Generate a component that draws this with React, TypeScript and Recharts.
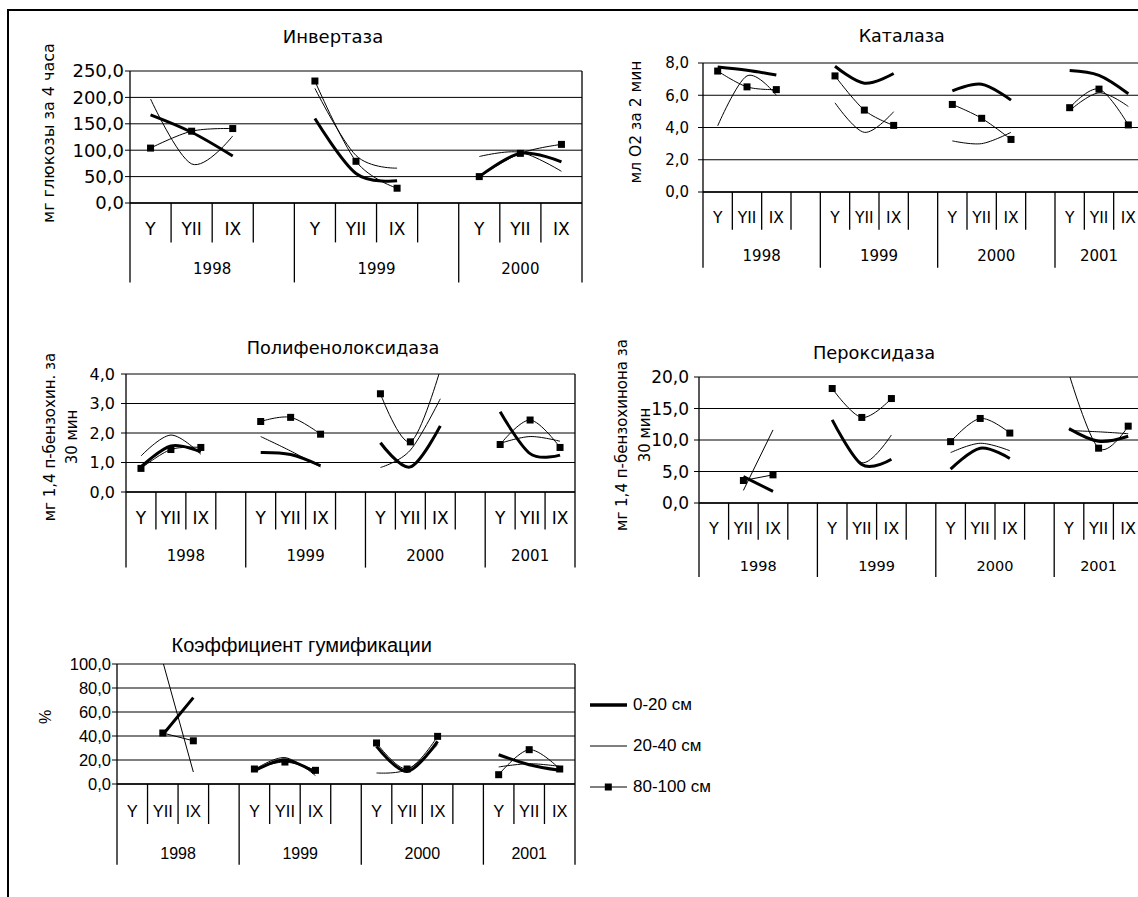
import React from 'react';
import { LineChart, Line, XAxis, YAxis, CartesianGrid, Legend } from 'recharts';

// ---------- categories ----------
const MONTHS = ['Y', 'YII', 'IX', ''];
const YEARS_3 = ['1998', '1999', '2000'];
const YEARS_4 = ['1998', '1999', '2000', '2001'];
const DEPTHS = ['0-20 см', '20-40 см', '80-100 см'];

// ---------- Инвертаза ----------
const invTicks = [0, 50, 100, 150, 200, 250];
const inv_0_20 = [167, 134, 89, null, 160, 56, 42, null, 50, 94, 78];
const inv_20_40 = [197, 74, 127, null, 217, 90, 66, null, 88, 96, 60];
const inv_80_100 = [104, 136, 141, null, 231, 79, 28, null, 50, 94, 111];

// ---------- Каталаза ----------
const catTicks = [0, 2, 4, 6, 8];
const cat_0_20 = [7.75, 7.55, 7.25, null, 7.8, 6.75, 7.35, null, 6.27, 6.68, 5.7, null, 7.53, 7.23, 6.09];
const cat_20_40 = [4.1, 7.2, 6.0, null, 5.53, 3.7, 4.98, null, 3.17, 3.0, 3.7, null, 5.05, 6.15, 5.3];
const cat_80_100 = [7.5, 6.52, 6.35, null, 7.2, 5.08, 4.13, null, 5.43, 4.57, 3.26, null, 5.23, 6.38, 4.16];

// ---------- Полифенолоксидаза ----------
const pfoTicks = [0, 1, 2, 3, 4];
const pfo_0_20 = [0.85, 1.56, 1.36, null, 1.34, 1.27, 0.89, null, 1.67, 0.85, 2.24, null, 2.72, 1.3, 1.25];
const pfo_20_40 = [1.22, 1.93, 1.28, null, 1.88, 1.39, 0.85, null, 0.83, 1.42, 3.16, null, 1.65, 1.88, 1.72];
const pfo_80_100 = [0.8, 1.44, 1.51, null, 2.39, 2.53, 1.96, null, 3.33, 1.7, 4.15, null, 1.61, 2.44, 1.51];

// ---------- Пероксидаза ----------
const perTicks = [0, 5, 10, 15, 20];
const per_0_20 = [null, 4.2, 1.85, null, 13.2, 6.1, 6.95, null, 5.37, 8.69, 7.07, null, 11.8, 9.8, 10.6];
const per_20_40 = [null, 2.0, 11.6, null, 13.1, 6.4, 10.8, null, 8.0, 9.48, 8.3, null, 11.5, 11.3, 11.0];
const per_80_100 = [null, 3.57, 4.47, null, 18.17, 13.58, 16.58, null, 9.74, 13.42, 11.1, null, 20.5, 8.7, 12.2];

// ---------- Коэффициент гумификации ----------
const humTicks = [0, 20, 40, 60, 80, 100];
const hum_0_20 = [null, 41, 72, null, 11, 20, 9.5, null, 31.3, 10.5, 35.5, null, 24.4, 16.1, 11.4];
const hum_20_40 = [null, 102, 10, null, 12, 22, 7, null, 9.2, 12, 32.7, null, 14.2, 16.9, 14.7];
const hum_80_100 = [null, 42.5, 36, null, 12.5, 18.3, 11.4, null, 34.2, 12.5, 39.7, null, 7.75, 28.6, 12.5];

// ---------- helpers ----------
type Slot = { key: string; month: string; year: string; mi: number };

function buildSlots(years: string[]): Slot[] {
  const out: Slot[] = [];
  years.forEach((y) => MONTHS.forEach((m, mi) => out.push({ key: `${y}-${mi}`, month: m, year: y, mi })));
  out.pop();
  return out;
}

// Excel-like smoothed line (cardinal spline, tension 0)
function smoothCurve(context: any) {
  const k = 1 / 6;
  let x0 = NaN, x1 = NaN, x2 = NaN, y0 = NaN, y1 = NaN, y2 = NaN, pt = 0;
  let line: any;
  const bez = (x: number, y: number) =>
    context.bezierCurveTo(x1 + k * (x2 - x0), y1 + k * (y2 - y0), x2 + k * (x1 - x), y2 + k * (y1 - y), x2, y2);
  return {
    areaStart() { line = 0; },
    areaEnd() { line = NaN; },
    lineStart() { x0 = x1 = x2 = y0 = y1 = y2 = NaN; pt = 0; },
    lineEnd() {
      if (pt === 2) context.lineTo(x2, y2);
      else if (pt === 3) bez(x1, y1);
      if (line || (line !== 0 && pt === 1)) context.closePath();
      line = 1 - line;
    },
    point(x: number, y: number) {
      x = +x; y = +y;
      switch (pt) {
        case 0: pt = 1; if (line) context.lineTo(x, y); else context.moveTo(x, y); break;
        case 1: pt = 2; x1 = x; y1 = y; break;
        case 2: pt = 3; bez(x, y); break;
        default: bez(x, y); break;
      }
      x0 = x1; x1 = x2; x2 = x;
      y0 = y1; y1 = y2; y2 = y;
    },
  };
}

const fmt = (v: number) => v.toFixed(1).replace('.', ',');

type Cfg = {
  id: string;
  L: number; T: number; W: number; H: number;
  years: string[];
  yMax: number; ticks: number[];
  a: (number | null)[]; b: (number | null)[]; c: (number | null)[];
  font: string; tickFs: number; tickGap: number; catFs: number; yearFs: number;
  rowLen: number; catDy: number; yearLen: number; yearDy: number;
  title: string; titleX: number; titleY: number; titleFs: number;
  ylab: string[]; ylabX: number; ylabY: number; ylabFs: number; ylabLh: number;
  legend?: { left: number; top: number };
};

const DV = 'DejaVu Sans';
const LS = '"Liberation Sans", Arial, sans-serif';

const charts: Cfg[] = [
  {
    id: 'inv', L: 130, T: 71, W: 452, H: 132, years: YEARS_3, yMax: 250, ticks: invTicks,
    a: inv_0_20, b: inv_20_40, c: inv_80_100,
    font: DV, tickFs: 18, tickGap: 1, catFs: 17, yearFs: 15,
    rowLen: 39.4, catDy: 25.7, yearLen: 79.4, yearDy: 65.7,
    title: 'Инвертаза', titleX: 333, titleY: 37, titleFs: 18,
    ylab: ['мг глюкозы за 4 часа'], ylabX: 49.3, ylabY: 132.5, ylabFs: 16, ylabLh: 20,
  },
  {
    id: 'cat', L: 703, T: 63, W: 440, H: 129, years: YEARS_4, yMax: 8, ticks: catTicks,
    a: cat_0_20, b: cat_20_40, c: cat_80_100,
    font: DV, tickFs: 15, tickGap: 9, catFs: 15.5, yearFs: 15,
    rowLen: 37.7, catDy: 25.7, yearLen: 75.7, yearDy: 64.4,
    title: 'Каталаза', titleX: 901.7, titleY: 37, titleFs: 17.5,
    ylab: ['мл О2 за 2 мин'], ylabX: 636, ylabY: 121.7, ylabFs: 15.5, ylabLh: 20,
  },
  {
    id: 'pfo', L: 126, T: 374, W: 449, H: 118, years: YEARS_4, yMax: 4, ticks: pfoTicks,
    a: pfo_0_20, b: pfo_20_40, c: pfo_80_100,
    font: DV, tickFs: 16, tickGap: 6, catFs: 17, yearFs: 15,
    rowLen: 37.6, catDy: 25.6, yearLen: 75.6, yearDy: 64.3,
    title: 'Полифенолоксидаза', titleX: 343, titleY: 349.3, titleFs: 17.7,
    ylab: ['мг 1,4 п-бензохин. за', '30 мин'], ylabX: 60.5, ylabY: 436.5, ylabFs: 15, ylabLh: 22.4,
  },
  {
    id: 'per', L: 699, T: 377, W: 444, H: 126, years: YEARS_4, yMax: 20, ticks: perTicks,
    a: per_0_20, b: per_20_40, c: per_80_100,
    font: DV, tickFs: 17, tickGap: 5, catFs: 16, yearFs: 14.5,
    rowLen: 36.7, catDy: 25, yearLen: 74, yearDy: 62.7,
    title: 'Пероксидаза', titleX: 874, titleY: 353.3, titleFs: 17.8,
    ylab: ['мг 1,4 п-бензохинона за', '30 мин'], ylabX: 634.3, ylabY: 435, ylabFs: 15, ylabLh: 23.3,
  },
  {
    id: 'hum', L: 117, T: 664, W: 458, H: 120, years: YEARS_4, yMax: 100, ticks: humTicks,
    a: hum_0_20, b: hum_20_40, c: hum_80_100,
    font: LS, tickFs: 16.5, tickGap: 1, catFs: 16.5, yearFs: 16,
    rowLen: 40, catDy: 27.4, yearLen: 80.7, yearDy: 69,
    title: 'Коэффициент гумификации', titleX: 301.7, titleY: 645, titleFs: 20,
    ylab: ['%'], ylabX: 46, ylabY: 717.3, ylabFs: 16, ylabLh: 20,
    legend: { left: 573, top: 30.5 },
  },
];

function SubChart({ cfg }: { cfg: Cfg }) {
  const yAxisW = 100, mTop = 10, xAxisH = 90, mBottom = 4;
  const mRight = cfg.legend ? 190 : 10;
  const width = yAxisW + cfg.W + mRight;
  const height = mTop + cfg.H + xAxisH + mBottom;
  const slots = buildSlots(cfg.years);
  const data = slots.map((s, i) => ({ key: s.key, s1: cfg.a[i], s2: cfg.b[i], s3: cfg.c[i] }));
  const sw = cfg.W / slots.length;
  const axisY = mTop + cfg.H;

  const renderTick = (p: any) => {
    const i = slots.findIndex((s) => s.key === p.payload.value);
    if (i < 0) return <g />;
    const s = slots[i];
    const x = p.x;
    const left = x - sw / 2;
    const yearStart = s.mi === 0;
    const groupN = slots.filter((t) => t.year === s.year).length;
    const last = i === slots.length - 1;
    return (
      <g>
        <line x1={left} x2={left} y1={axisY} y2={axisY + (yearStart ? cfg.yearLen : cfg.rowLen)} stroke="#000" strokeWidth={1.3} />
        {s.month !== '' && (
          <text x={x} y={axisY + cfg.catDy} textAnchor="middle" dominantBaseline="central" fontFamily={cfg.font} fontSize={cfg.catFs} fill="#000">
            {s.month}
          </text>
        )}
        {yearStart && (
          <text x={left + (groupN * sw) / 2} y={axisY + cfg.yearDy} textAnchor="middle" dominantBaseline="central" fontFamily={cfg.font} fontSize={cfg.yearFs} fill="#000">
            {s.year}
          </text>
        )}
        {last && <line x1={left + sw} x2={left + sw} y1={mTop} y2={axisY + cfg.yearLen} stroke="#000" strokeWidth={1.3} />}
      </g>
    );
  };

  const renderSquare = (p: any) => {
    const { cx, cy, value, index } = p;
    if (cx == null || cy == null || value == null || value > cfg.yMax) return <g key={`sq-${index}`} />;
    return <rect key={`sq-${index}`} x={cx - 3.5} y={cy - 3.5} width={7} height={7} fill="#000" />;
  };

  const renderLegend = (props: any) => {
    const items = (props.payload || []) as any[];
    return (
      <div style={{ fontFamily: cfg.font, fontSize: 17, color: '#000' }}>
        {items.map((e, i) => (
          <div key={i} style={{ height: 41, display: 'flex', alignItems: 'center', whiteSpace: 'nowrap' }}>
            <svg width={37} height={12} style={{ display: 'block' }}>
              <line x1={0} x2={37} y1={6} y2={6} stroke="#000" strokeWidth={i === 0 ? 3.5 : 1} />
              {i === 2 && <rect x={14.8} y={2.5} width={7} height={7} fill="#000" />}
            </svg>
            <span style={{ marginLeft: 6 }}>{e.value}</span>
          </div>
        ))}
      </div>
    );
  };

  return (
    <div style={{ position: 'absolute', left: cfg.L - yAxisW, top: cfg.T - mTop }}>
      <LineChart width={width} height={height} data={data} margin={{ top: mTop, right: mRight, bottom: mBottom, left: 0 }}>
        <CartesianGrid vertical={false} stroke="#000" strokeWidth={1} />
        <XAxis
          dataKey="key"
          type="category"
          interval={0}
          padding={{ left: sw / 2, right: sw / 2 }}
          tickLine={false}
          axisLine={{ stroke: '#000', strokeWidth: 1.3 }}
          height={xAxisH}
          tick={renderTick}
        />
        <YAxis
          type="number"
          domain={[0, cfg.yMax]}
          ticks={cfg.ticks}
          allowDataOverflow
          interval={0}
          width={yAxisW}
          tickSize={5}
          tickMargin={cfg.tickGap}
          tickLine={{ stroke: '#000' }}
          axisLine={{ stroke: '#000', strokeWidth: 1.3 }}
          tick={{ fill: '#000', fontSize: cfg.tickFs, fontFamily: cfg.font }}
          tickFormatter={fmt}
        />
        <Line type={smoothCurve as any} dataKey="s1" name={DEPTHS[0]} stroke="#000" strokeWidth={3} dot={false} activeDot={false} isAnimationActive={false} />
        <Line type={smoothCurve as any} dataKey="s2" name={DEPTHS[1]} stroke="#000" strokeWidth={1} dot={false} activeDot={false} isAnimationActive={false} />
        <Line type={smoothCurve as any} dataKey="s3" name={DEPTHS[2]} stroke="#000" strokeWidth={1} dot={renderSquare} activeDot={false} isAnimationActive={false} />
        {cfg.legend && (
          <Legend
            layout="horizontal"
            verticalAlign="middle"
            align="center"
            content={renderLegend}
            wrapperStyle={{ position: 'absolute', left: cfg.legend.left, top: cfg.legend.top, width: 'auto', height: 'auto' }}
          />
        )}
      </LineChart>
    </div>
  );
}

function Overlay({ cfg }: { cfg: Cfg }) {
  return (
    <>
      <div
        style={{
          position: 'absolute', left: cfg.titleX, top: cfg.titleY, transform: 'translate(-50%, -50%)',
          whiteSpace: 'nowrap', fontFamily: cfg.font, fontSize: cfg.titleFs, color: '#000', lineHeight: 1,
        }}
      >
        {cfg.title}
      </div>
      <div
        style={{
          position: 'absolute', left: cfg.ylabX, top: cfg.ylabY, transform: 'translate(-50%, -50%) rotate(-90deg)',
          whiteSpace: 'nowrap', textAlign: 'center', fontFamily: cfg.font, fontSize: cfg.ylabFs,
          lineHeight: `${cfg.ylabLh}px`, color: '#000',
        }}
      >
        {cfg.ylab.map((l, i) => (
          <div key={i}>{l}</div>
        ))}
      </div>
    </>
  );
}

export default function App() {
  return (
    <div style={{ position: 'fixed', left: 0, top: 0, width: 1138, height: 897, overflow: 'hidden', background: '#fff' }}>
      <div style={{ position: 'absolute', left: 6.5, top: 9, width: 1200, height: 1000, borderTop: '2px solid #000', borderLeft: '2px solid #000' }} />
      {charts.map((c) => (
        <SubChart key={c.id} cfg={c} />
      ))}
      {charts.map((c) => (
        <Overlay key={`o-${c.id}`} cfg={c} />
      ))}
    </div>
  );
}
